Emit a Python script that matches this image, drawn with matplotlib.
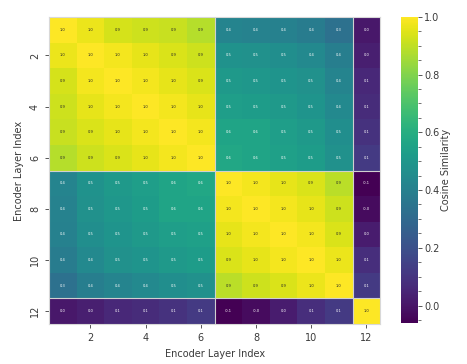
import matplotlib
matplotlib.use("Agg")
import matplotlib.pyplot as plt
import numpy as np
import seaborn as sns
from matplotlib.ticker import MultipleLocator

# cosine similarity between encoder layers (rows/cols = layer 1..12)
sim = [
    [1.00, 0.97, 0.93, 0.92, 0.91, 0.88, 0.42, 0.41, 0.40, 0.38, 0.33, 0.01],
    [0.97, 1.00, 0.98, 0.96, 0.94, 0.92, 0.48, 0.47, 0.46, 0.44, 0.39, 0.03],
    [0.93, 0.98, 1.00, 0.98, 0.96, 0.94, 0.51, 0.50, 0.49, 0.47, 0.42, 0.06],
    [0.92, 0.96, 0.98, 1.00, 0.98, 0.96, 0.53, 0.52, 0.51, 0.49, 0.44, 0.07],
    [0.91, 0.94, 0.96, 0.98, 1.00, 0.98, 0.56, 0.56, 0.53, 0.51, 0.46, 0.09],
    [0.88, 0.92, 0.94, 0.96, 0.98, 1.00, 0.57, 0.56, 0.54, 0.52, 0.47, 0.12],
    [0.42, 0.48, 0.51, 0.53, 0.56, 0.57, 1.00, 0.98, 0.96, 0.94, 0.89, -0.06],
    [0.41, 0.47, 0.50, 0.52, 0.56, 0.56, 0.98, 1.00, 0.98, 0.96, 0.92, -0.03],
    [0.40, 0.46, 0.49, 0.51, 0.53, 0.54, 0.96, 0.98, 1.00, 0.98, 0.94, 0.02],
    [0.38, 0.44, 0.47, 0.49, 0.51, 0.52, 0.94, 0.96, 0.98, 1.00, 0.97, 0.08],
    [0.33, 0.39, 0.42, 0.44, 0.46, 0.47, 0.89, 0.92, 0.94, 0.97, 1.00, 0.12],
    [0.01, 0.03, 0.06, 0.07, 0.09, 0.12, -0.06, -0.03, 0.02, 0.08, 0.12, 1.00],
]
tick_labels = ["2", "4", "6", "8", "10", "12"]
block_edges = [6, 11]

sim = np.array(sim)
txt = "#3a3a3a"
plt.rcParams.update({"font.size": 7, "text.color": txt, "axes.labelcolor": txt,
                     "xtick.color": txt, "ytick.color": txt})

fig = plt.figure(figsize=(4.67, 3.64), dpi=100)
ax = fig.add_axes([0.105, 0.110, 0.709, 0.843])
cax = fig.add_axes([0.859, 0.113, 0.036, 0.841])

sns.heatmap(sim, ax=ax, cbar_ax=cax, cmap="viridis", vmin=sim.min(), vmax=1.0,
            annot=True, fmt=".1f", annot_kws={"size": 2.6},
            cbar_kws={"label": "Cosine Similarity"})

for e in block_edges:
    ax.axhline(e, color="#d0d0d0", lw=0.8)
    ax.axvline(e, color="#d0d0d0", lw=0.8)
for s in ax.spines.values():
    s.set_visible(True)
    s.set_color("#d8d8d8")
    s.set_linewidth(0.8)

pos = np.arange(1, 12, 2) + 0.5
ax.set_xticks(pos)
ax.set_xticklabels(tick_labels, rotation=0)
ax.set_yticks(pos)
ax.set_yticklabels(tick_labels, rotation=90, va="center")
ax.tick_params(length=3, width=0.6, labelsize=7)
ax.set_xlabel("Encoder Layer Index", fontsize=7)
ax.set_ylabel("Encoder Layer Index", fontsize=7)

cbar = ax.collections[0].colorbar
cbar.set_ticks([0.0, 0.2, 0.4, 0.6, 0.8, 1.0])
cbar.ax.yaxis.set_minor_locator(MultipleLocator(0.05))
cbar.ax.tick_params(which="major", length=3, width=0.6, labelsize=7, pad=1.5)
cbar.ax.tick_params(which="minor", length=2, width=0.5)
cbar.outline.set_visible(False)
cbar.ax.yaxis.label.set_size(7)
cbar.ax.yaxis.labelpad = 1

fig.savefig("out.png", dpi=100)
